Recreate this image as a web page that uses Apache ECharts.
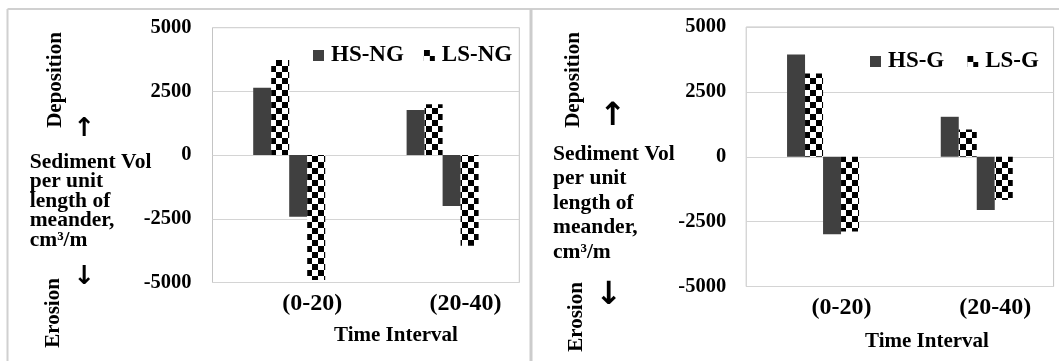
<!DOCTYPE html>
<html>
<head>
<meta charset="utf-8">
<script src="https://cdn.jsdelivr.net/npm/echarts@6/dist/echarts.min.js"></script>
<style>
  html, body { margin: 0; padding: 0; background: #ffffff; }
  #chart { width: 1059px; height: 361px; }
</style>
</head>
<body>
<div id="chart"></div>
<script>
// Time intervals on the horizontal axis
const categories = ['(0-20)', '(20-40)'];
// Value axis ticks (cm³/m)
const yTicks = [-5000, -2500, 0, 2500, 5000];

// Without grass (NG)
const ngNames = ['HS-NG', 'LS-NG'];
const hsNgDeposition = [2640, 1770];
const lsNgDeposition = [3730, 2000];
const hsNgErosion = [-2420, -2000];
const lsNgErosion = [-4900, -3560];

// With grass (G)
const gNames = ['HS-G', 'LS-G'];
const hsGDeposition = [3940, 1540];
const lsGDeposition = [3210, 1050];
const hsGErosion = [-2985, -2050];
const lsGErosion = [-2885, -1665];

const FONT = "'Liberation Serif', 'Times New Roman', serif";
const ARROW_FONT = "'DejaVu Sans', sans-serif";
const SOLID = '#404040';

// Black/white checkerboard fill for the LS bars
function checkerCanvas(size) {
  const c = document.createElement('canvas');
  c.width = c.height = size * 2;
  const g = c.getContext('2d');
  g.fillStyle = '#ffffff';
  g.fillRect(0, 0, size * 2, size * 2);
  g.fillStyle = '#000000';
  g.fillRect(0, 0, size, size);
  g.fillRect(size, size, size, size);
  return c;
}
const CHECKER = { image: checkerCanvas(6), repeat: 'repeat' };

const tickStep = yTicks[1] - yTicks[0];
const yMin = yTicks[0];
const yMax = yTicks[yTicks.length - 1];

function barSeries(name, data, color, idx) {
  return {
    type: 'bar', name: name, data: data,
    xAxisIndex: idx, yAxisIndex: idx,
    barWidth: 18, barGap: '0%',
    itemStyle: { color: color },
    emphasis: { disabled: true },
    animation: false
  };
}

function xAxisCfg(idx, shift) {
  return {
    type: 'category', gridIndex: idx, data: categories,
    axisLine: { show: false, onZero: false },
    axisTick: { show: false },
    splitLine: { show: false },
    axisLabel: {
      color: '#000', fontFamily: FONT, fontWeight: 'bold', fontSize: 24,
      margin: 9, padding: [0, 0, 0, shift * 2]
    }
  };
}

function yAxisCfg(idx, margin) {
  return {
    type: 'value', gridIndex: idx, min: yMin, max: yMax, interval: tickStep,
    axisLine: { show: false }, axisTick: { show: false },
    splitLine: { lineStyle: { color: '#d4d4d4', width: 1 } },
    axisLabel: {
      color: '#000', fontFamily: FONT, fontWeight: 'bold', fontSize: 20.5,
      margin: margin,
      formatter: function (v) { return String(v); }
    }
  };
}

function legendCfg(names, left, top, gap) {
  return {
    data: names, left: left, top: top, orient: 'horizontal',
    padding: 0, itemGap: gap, itemWidth: 11, itemHeight: 11, icon: 'rect',
    selectedMode: false,
    textStyle: {
      color: '#000', fontFamily: FONT, fontWeight: 'bold', fontSize: 23,
      padding: [0, 0, 0, 2]
    }
  };
}

function label(text, x, y, size, extra, family) {
  return Object.assign({
    type: 'text', x: x, y: y, silent: true,
    style: {
      text: text, fill: '#000', font: 'bold ' + size + 'px ' + (family || FONT),
      textAlign: 'center', textVerticalAlign: 'middle'
    }
  }, extra || {});
}

function yTitle(x, y, lineHeight) {
  return {
    type: 'text', x: x, y: y, silent: true,
    style: {
      text: 'Sediment Vol\nper unit\nlength of\nmeander,\ncm³/m',
      fill: '#000', font: 'bold 21.5px ' + FONT,
      lineHeight: lineHeight, textAlign: 'left', textVerticalAlign: 'top'
    }
  };
}

const chart = echarts.init(document.getElementById('chart'), null, { renderer: 'canvas' });

chart.setOption({
  backgroundColor: '#ffffff',
  animation: false,
  grid: [
    { left: 212.5, top: 27.7, width: 306.8, height: 254.8,
      show: true, borderColor: '#c4c4c4', borderWidth: 1, backgroundColor: 'transparent' },
    { left: 746.2, top: 27, width: 307.4, height: 259.5,
      show: true, borderColor: '#c4c4c4', borderWidth: 1, backgroundColor: 'transparent' }
  ],
  xAxis: [xAxisCfg(0, 23), xAxisCfg(1, 18.5)],
  yAxis: [yAxisCfg(0, 21), yAxisCfg(1, 20)],
  legend: [
    legendCfg(ngNames, 313, 44, 20),
    legendCfg(gNames, 870, 50, 23)
  ],
  series: [
    barSeries(ngNames[0], hsNgDeposition, SOLID, 0),
    barSeries(ngNames[1], lsNgDeposition, CHECKER, 0),
    barSeries(ngNames[0], hsNgErosion, SOLID, 0),
    barSeries(ngNames[1], lsNgErosion, CHECKER, 0),
    barSeries(gNames[0], hsGDeposition, SOLID, 1),
    barSeries(gNames[1], lsGDeposition, CHECKER, 1),
    barSeries(gNames[0], hsGErosion, SOLID, 1),
    barSeries(gNames[1], lsGErosion, CHECKER, 1)
  ],
  graphic: [
    // panel frames
    { type: 'line', silent: true, shape: { x1: 7.5, y1: 9, x2: 1059, y2: 9 },
      style: { stroke: '#d0d0d0', lineWidth: 2 } },
    { type: 'line', silent: true, shape: { x1: 7.5, y1: 9, x2: 7.5, y2: 361 },
      style: { stroke: '#d0d0d0', lineWidth: 2 } },
    { type: 'line', silent: true, shape: { x1: 531, y1: 9, x2: 531, y2: 361 },
      style: { stroke: '#cccccc', lineWidth: 3 } },

    // left panel titles
    label('Deposition', 55.7, 80, 21, { rotation: Math.PI / 2 }),
    label('Erosion', 54, 313, 21, { rotation: Math.PI / 2 }),
    label('↑', 84.5, 129.5, 26, null, ARROW_FONT),
    label('↓', 84.5, 277.5, 26, null, ARROW_FONT),
    yTitle(29.7, 152.5, 19.5),
    label('Time Interval', 396, 336, 21),

    // right panel titles
    label('Deposition', 574, 80, 21, { rotation: Math.PI / 2 }),
    label('Erosion', 577, 317, 21, { rotation: Math.PI / 2 }),
    label('↑', 612.8, 117, 32, null, ARROW_FONT),
    label('↓', 609, 296, 32, null, ARROW_FONT),
    yTitle(553, 142, 24.5),
    label('Time Interval', 927, 342, 21)
  ]
});
</script>
</body>
</html>
